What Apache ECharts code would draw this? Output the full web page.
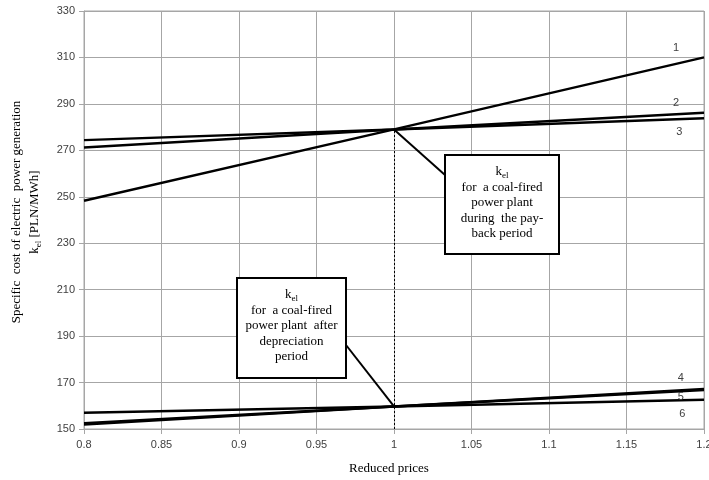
<!DOCTYPE html>
<html>
<head>
<meta charset="utf-8">
<script src="https://cdn.jsdelivr.net/npm/echarts@6/dist/echarts.min.js"></script>
<style>
  html, body { margin: 0; padding: 0; background: #fff; }
  #chart { width: 709px; height: 480px; }
</style>
</head>
<body>
<div id="chart"></div>
<script>
// Reduced price points where each cost curve is evaluated
const reducedPrices = [0.8, 1.0, 1.2];

// Specific cost of electric power generation k_el [PLN/MWh]
const curve1 = [248.3, 279.0, 310.0];
const curve2 = [271.2, 279.0, 286.2];
const curve3 = [274.4, 279.0, 283.8];
const curve4 = [151.9, 159.7, 167.2];
const curve5 = [157.0, 159.7, 162.6];
const curve6 = [152.5, 159.7, 166.8];

const curveNames = ['1', '2', '3', '4', '5', '6'];
const curveValues = [curve1, curve2, curve3, curve4, curve5, curve6];

// Where each curve number is written, in data units
const curveTagX = [1.182, 1.182, 1.184, 1.185, 1.185, 1.186];
const curveTagY = [314.2, 290.3, 278.0, 172.0, 163.7, 156.4];

// Reference price and the common cost values at that price
const refPrice = 1.0;
const payBackCost = 279.0;
const afterDeprCost = 159.7;

const xTicks = { min: 0.8, max: 1.2, step: 0.05 };
const yTicks = { min: 150, max: 330, step: 20 };

const chart = echarts.init(document.getElementById('chart'));

const gridColor = '#a6a6a6';
const tickFont = { color: '#404040', fontSize: 11, fontFamily: 'Liberation Sans, Arial, sans-serif' };
const serif = 'Liberation Serif, Times New Roman, serif';

function fmtX(v) {
  return String(parseFloat(v.toFixed(2)));
}

const series = curveValues.map((vals, i) => ({
  name: curveNames[i],
  type: 'line',
  data: reducedPrices.map((p, j) => [p, vals[j]]),
  symbol: 'none',
  lineStyle: { color: '#000', width: 2.4 },
  z: 3,
  animation: false
}));

// Dashed drop line at the reference price
series[0].markLine = {
  silent: true,
  symbol: 'none',
  label: { show: false },
  lineStyle: { color: '#000', type: [2, 2], width: 1 },
  data: [[{ coord: [refPrice, yTicks.min] }, { coord: [refPrice, payBackCost] }]],
  animation: false
};

chart.setOption({
  animation: false,
  grid: {
    left: 84, right: 5, top: 11, bottom: 51,
    outerBoundsMode: 'none',
    containLabel: false,
    show: true, borderColor: gridColor, borderWidth: 1
  },
  xAxis: {
    type: 'value',
    min: xTicks.min,
    max: xTicks.max,
    interval: xTicks.step,
    axisLine: { show: true, lineStyle: { color: gridColor } },
    axisTick: { show: true, length: 5, lineStyle: { color: gridColor } },
    splitLine: { show: true, lineStyle: { color: gridColor, width: 1 } },
    axisLabel: Object.assign({ margin: 10, formatter: fmtX }, tickFont)
  },
  yAxis: {
    type: 'value',
    min: yTicks.min,
    max: yTicks.max,
    interval: yTicks.step,
    axisLine: { show: true, lineStyle: { color: gridColor } },
    axisTick: { show: true, length: 5, lineStyle: { color: gridColor } },
    splitLine: { show: true, lineStyle: { color: gridColor, width: 1 } },
    axisLabel: Object.assign({ margin: 9 }, tickFont)
  },
  series: series
});

function px(x, y) {
  return chart.convertToPixel({ gridIndex: 0 }, [x, y]);
}

const subRich = {
  k: { fontFamily: serif, fontSize: 13, color: '#000', lineHeight: 15.5 },
  s: { fontFamily: serif, fontSize: 9, color: '#000', lineHeight: 15.5, padding: [7, 0, 0, 0] }
};

function noteBox(left, top, w, h, lines) {
  return [
    {
      type: 'rect',
      shape: { x: left, y: top, width: w, height: h },
      style: { fill: '#fff', stroke: '#000', lineWidth: 2 },
      z: 10
    },
    {
      type: 'text',
      x: left + w / 2,
      y: top + 9,
      style: {
        text: lines.join('\n'),
        align: 'center',
        verticalAlign: 'top',
        fontFamily: serif,
        fontSize: 13,
        lineHeight: 15.5,
        fill: '#000',
        rich: subRich
      },
      z: 11
    }
  ];
}

const pPay = px(refPrice, payBackCost);
const pDepr = px(refPrice, afterDeprCost);

const graphics = [];

// Leader lines from the common points to the notes
graphics.push({
  type: 'line',
  shape: { x1: pPay[0], y1: pPay[1], x2: 445, y2: 175 },
  style: { stroke: '#000', lineWidth: 2 },
  z: 9
});
graphics.push({
  type: 'line',
  shape: { x1: pDepr[0], y1: pDepr[1], x2: 346, y2: 345 },
  style: { stroke: '#000', lineWidth: 2 },
  z: 9
});

graphics.push(...noteBox(445, 155, 114, 99, [
  '{k|k}{s|el}',
  'for  a coal-fired',
  'power plant',
  'during  the pay-',
  'back period'
]));
graphics.push(...noteBox(237, 278, 109, 100, [
  '{k|k}{s|el}',
  'for  a coal-fired',
  'power plant  after',
  'depreciation',
  'period'
]));

// Curve numbers
curveNames.forEach((n, i) => {
  const p = px(curveTagX[i], curveTagY[i]);
  graphics.push({
    type: 'text',
    x: p[0],
    y: p[1],
    style: {
      text: n,
      align: 'center',
      verticalAlign: 'middle',
      fontFamily: 'Liberation Sans, Arial, sans-serif',
      fontSize: 11,
      fill: '#404040'
    },
    z: 12
  });
});

// Axis titles
graphics.push({
  type: 'text',
  x: 26,
  y: 212,
  rotation: Math.PI / 2,
  style: {
    text: 'Specific  cost of electric  power generation\n{k|k}{s|el} [PLN/MWh]',
    align: 'center',
    verticalAlign: 'middle',
    fontFamily: serif,
    fontSize: 13,
    lineHeight: 18,
    fill: '#000',
    rich: {
      k: { fontFamily: serif, fontSize: 13, color: '#000', lineHeight: 18 },
      s: { fontFamily: serif, fontSize: 9, color: '#000', lineHeight: 18, padding: [7, 0, 0, 0] }
    }
  },
  z: 12
});
graphics.push({
  type: 'text',
  x: 389,
  y: 469,
  style: {
    text: 'Reduced prices',
    align: 'center',
    verticalAlign: 'middle',
    fontFamily: serif,
    fontSize: 13,
    fill: '#000'
  },
  z: 12
});

chart.setOption({ graphic: graphics });
</script>
</body>
</html>
